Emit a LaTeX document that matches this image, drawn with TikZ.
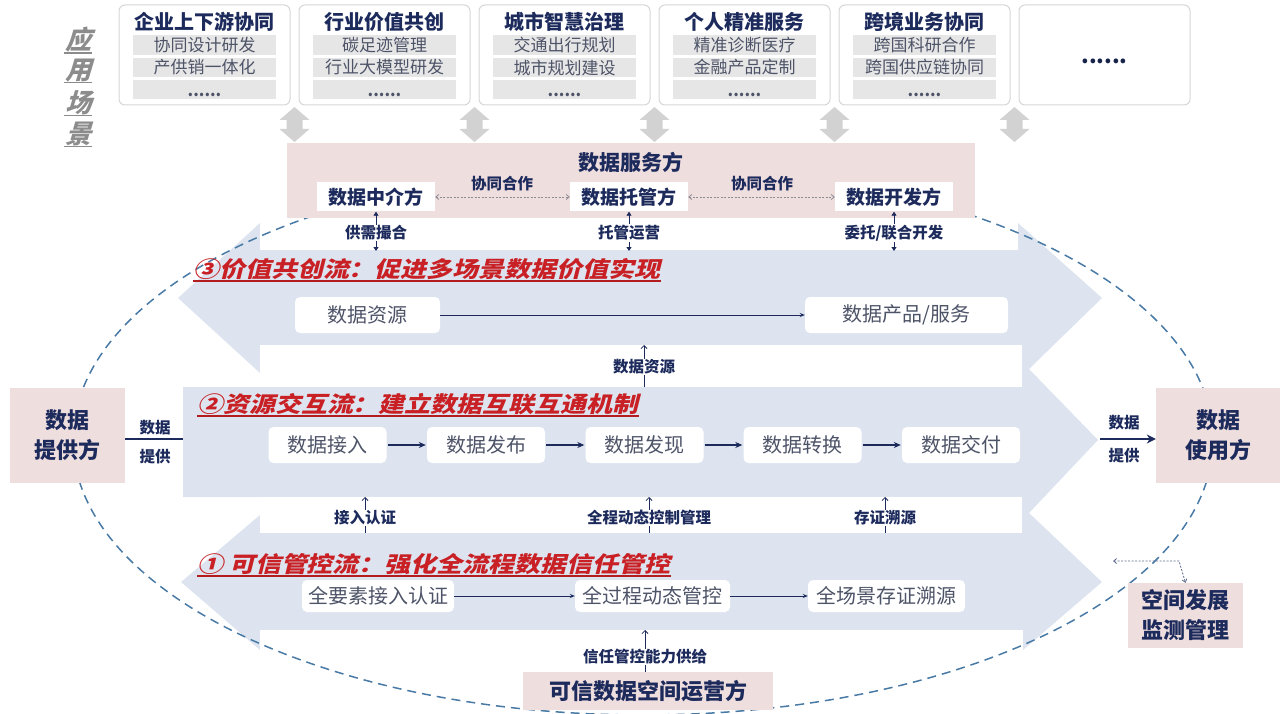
\documentclass[tikz,border=0pt]{standalone}
\usepackage{fontspec}
\setmainfont{Noto Sans CJK SC}
\newfontfamily\slfont[FakeSlant=0.25,FakeStretch=1.18]{Noto Sans CJK SC}
\newfontfamily\lblfont[FakeSlant=0.3]{Noto Sans CJK SC}
\usetikzlibrary{arrows.meta}
\definecolor{navy}{RGB}{28,42,92}
\definecolor{txtgray}{RGB}{78,84,104}
\definecolor{flowblue}{RGB}{221,228,239}
\definecolor{pinkbg}{RGB}{239,222,222}
\definecolor{titlered}{RGB}{200,32,36}
\definecolor{barbg}{RGB}{230,230,230}
\definecolor{arrgray}{RGB}{210,210,210}
\definecolor{boxline}{RGB}{214,214,214}
\definecolor{ellblue}{RGB}{72,122,165}
\definecolor{lblgray}{RGB}{140,140,140}
\definecolor{dotgray}{RGB}{140,140,150}
\newcommand\scenbox[5]{%
  \node[scen] (#1) at (#2+85.5,55) {};
  \node[scentitle] (#1t) at (#2+85.5,22) {#3};
  \node[barbox] (#1a) at (#2+85.5,45) {#4};
  \node[barbox] (#1b) at (#2+85.5,67.5) {#5};
  \node[barbox] (#1c) at (#2+85.5,89.5) {};
  \node[bardots] (#1d) at (#2+85.5,95) {......};
}
\newcommand\garrow[1]{%
  \fill[arrgray] (#1,107) -- (#1+15,120) -- (#1+8,120) -- (#1+8,129) -- (#1+15,129) -- (#1,142)
    -- (#1-15,129) -- (#1-8,129) -- (#1-8,120) -- (#1-15,120) -- cycle;
}
\begin{document}
\begin{tikzpicture}[x=1pt,y=-1pt,
  scen/.style={draw=boxline, line width=1pt, rounded corners=6pt, fill=white, minimum width=171pt, minimum height=100pt, inner sep=0pt},
  scentitle/.style={font=\fontsize{20}{20}\selectfont\bfseries, text=navy, inner sep=0pt},
  barbox/.style={fill=barbg, minimum width=143pt, minimum height=19.5pt, inner sep=0pt, text=txtgray, font=\fontsize{17}{17}\selectfont},
  bardots/.style={inner sep=0pt, text=txtgray, font=\fontsize{16}{16}\selectfont\bfseries},
  yylbl/.style={inner sep=0pt, text=lblgray, font=\fontsize{26}{26}\selectfont\lblfont\bfseries},
  pinkrect/.style={fill=pinkbg, inner sep=0pt},
  svcbox/.style={fill=white, minimum width=118pt, minimum height=29pt, inner sep=0pt, text=navy, font=\fontsize{19}{19}\selectfont\bfseries},
  smlbl/.style={inner sep=1pt, text=navy, font=\fontsize{15.5}{15.5}\selectfont\bfseries},
  ftitle/.style={inner sep=0pt, text=titlered, font=\fontsize{22}{22}\selectfont\slfont\bfseries},
  uline/.style={draw=titlered!90!black, line width=1.8pt},
  fbox/.style={fill=white, rounded corners=5pt, minimum height=36pt, inner sep=0pt, text=txtgray, font=\fontsize{20}{20}\selectfont},
  sidebox/.style={fill=pinkbg, inner sep=0pt, text=navy, align=center, font=\fontsize{22}{30}\selectfont\bfseries},
  thinarr/.style={draw=navy, line width=0.8pt, -{Stealth[length=5pt,width=4pt]}},
  medarr/.style={draw=navy, line width=1.4pt, -{Stealth[length=7pt,width=6pt]}, shorten >=1pt, shorten <=1pt},
  uparr/.style={draw=navy, line width=0.8pt, -{Straight Barb[length=3pt,width=6pt]}},
  dblarr/.style={draw=navy, line width=0.8pt, {Triangle[length=4pt,width=5pt]}-{Triangle[length=4pt,width=5pt]}},
  dotarr/.style={draw=dotgray, line width=0.8pt, dash pattern=on 2pt off 1.5pt, {Straight Barb[length=3pt,width=5pt]}-{Straight Barb[length=3pt,width=5pt]}},
  provline/.style={draw=navy, line width=2pt},
  provarr/.style={draw=navy, line width=2pt, -{Stealth[length=9pt,width=9pt]}},
  ellstyle/.style={draw=ellblue, line width=1.5pt, dash pattern=on 9pt off 6pt}
]
\useasboundingbox (0,0) rectangle (1282,714);

% ---- label 应用场景
\foreach \c/\yy/\nm in {应/40/la,用/71/lb,场/103/lc,景/134/ld}{
  \node[yylbl] (\nm) at (78,\yy) {\c};
  \draw[lblgray, line width=1.3pt] ([xshift=-1pt]\nm.south west) -- ([xshift=1pt]\nm.south east);
}

% ---- scenario boxes
\scenbox{s1}{119}{企业上下游协同}{协同设计研发}{产供销一体化}
\scenbox{s2}{299}{行业价值共创}{碳足迹管理}{行业大模型研发}
\scenbox{s3}{479}{城市智慧治理}{交通出行规划}{城市规划建设}
\scenbox{s4}{659}{个人精准服务}{精准诊断医疗}{金融产品定制}
\scenbox{s5}{839}{跨境业务协同}{跨国科研合作}{跨国供应链协同}
\node[scen] (s6) at (1104.5,55) {};
\node[inner sep=0pt, text=navy!80!black, font=\fontsize{22}{22}\selectfont\bfseries] (s6d) at (1104.5,61) {......};

\garrow{294.5}
\garrow{474.5}
\garrow{654.5}
\garrow{834.5}
\garrow{1014.5}

% ---- big flow shape
\fill[flowblue] (260,223) -- (1018,223) -- (1102,298) -- (1029,369) -- (1098,440) -- (1029,513)
  -- (1102,582) -- (1023,650) -- (260,650) -- (181,582) -- (260,515) -- (260,497) -- (183,497)
  -- (183,387) -- (260,387) -- (260,373) -- (178,298) -- cycle;
% white bands
\fill[white] (260,216) rectangle (1018,250);
\fill[white] (260,345) rectangle (1022,387);
\fill[white] (260,497) rectangle (1022,533);
\fill[white] (260,630) rectangle (1023,652);

% ---- ellipse
\draw[ellstyle] (643,440) ellipse [x radius=570pt, y radius=275pt];

% ---- data service band
\node[pinkrect, minimum width=688pt, minimum height=75pt] (svc) at (631,180.5) {};
\node[inner sep=0pt, text=navy, font=\fontsize{21}{21}\selectfont\bfseries] (svct) at (631,162) {数据服务方};
\node[svcbox] (med) at (376,197) {数据中介方};
\node[svcbox] (host) at (629,197) {数据托管方};
\node[svcbox] (dev) at (894,197) {数据开发方};
\draw[dotarr] (med) -- (host);
\draw[dotarr] (host) -- (dev);
\node[smlbl] (co1) at (502,184) {协同合作};
\node[smlbl] (co2) at (762,184) {协同合作};

\coordinate (f3a) at (376,251);
\coordinate (f3b) at (629,251);
\coordinate (f3c) at (894,251);
\draw[dblarr] (med.south) -- (f3a);
\draw[dblarr] (host.south) -- (f3b);
\draw[dblarr] (dev.south) -- (f3c);
\node[smlbl, fill=white] (l1) at (376,233) {供需撮合};
\node[smlbl, fill=white] (l2) at (629,233) {托管运营};
\node[smlbl, fill=white] (l3) at (894,233) {委托/联合开发};

% ---- flow 3
\node[ftitle, anchor=west] (t3) at (193,269) {③价值共创流：促进多场景数据价值实现};
\draw[uline] ([yshift=-1pt]t3.south west) -- ([yshift=-1pt]t3.south east);
\node[fbox, minimum width=145pt] (res) at (367.5,315) {数据资源};
\node[fbox, minimum width=203pt] (prod) at (906.5,315) {数据产品/服务};
\draw[thinarr] (res) -- (prod);

\coordinate (b3bot) at (644,345);
\coordinate (f2top) at (644,387);
\draw[uparr] (f2top) -- (b3bot);
\node[smlbl, fill=white] (l4) at (644,367) {数据资源};

% ---- flow 2
\node[ftitle, anchor=west] (t2) at (197,404) {②资源交互流：建立数据互联互通机制};
\draw[uline] ([yshift=-1pt]t2.south west) -- ([yshift=-1pt]t2.south east);
\node[fbox, minimum width=118pt] (acc) at (327.5,445) {数据接入};
\node[fbox, minimum width=118pt] (pub) at (486,445) {数据发布};
\node[fbox, minimum width=118pt] (disc) at (644.5,445) {数据发现};
\node[fbox, minimum width=118pt] (conv) at (802.5,445) {数据转换};
\node[fbox, minimum width=118pt] (deliv) at (961,445) {数据交付};
\draw[medarr] (acc) -- (pub);
\draw[medarr] (pub) -- (disc);
\draw[medarr] (disc) -- (conv);
\draw[medarr] (conv) -- (deliv);

\foreach \xx/\nm/\tx in {365/l5/接入认证, 649/l6/全程动态控制管理, 885/l7/存证溯源}{
  \coordinate (\nm a) at (\xx,533);
  \coordinate (\nm b) at (\xx,497);
  \draw[uparr] (\nm a) -- (\nm b);
  \node[smlbl, fill=white] (\nm) at (\xx,518) {\tx};
}

% ---- flow 1
\node[ftitle, anchor=west] (t1) at (197,564) {① 可信管控流：强化全流程数据信任管控};
\draw[uline] ([yshift=-1pt]t1.south west) -- ([yshift=-1pt]t1.south east);
\node[fbox, minimum width=152pt, minimum height=32pt] (auth) at (378,596) {全要素接入认证};
\node[fbox, minimum width=155pt, minimum height=32pt] (dyn) at (652.5,596) {全过程动态管控};
\node[fbox, minimum width=157pt, minimum height=32pt] (trace) at (886.5,596) {全场景存证溯源};
\draw[thinarr] (auth) -- (dyn);
\draw[thinarr] (dyn) -- (trace);

% ---- operator
\node[sidebox, minimum width=250pt, minimum height=38pt] (ops) at (648,691) {可信数据空间运营方};
\coordinate (f1bot) at (645,630);
\draw[uparr] (ops.north -| f1bot) -- (f1bot);
\node[smlbl, fill=white] (l8) at (645,657) {信任管控能力供给};

% ---- provider / user
\node[sidebox, minimum width=115pt, minimum height=95pt] (prov) at (67.5,435) {数据\\提供方};
\coordinate (f2left) at (183,439);
\draw[provline] (prov.east |- f2left) -- (f2left);
\node[smlbl] (pl1) at (155,428) {数据};
\node[smlbl] (pl2) at (155,457) {提供};

\node[sidebox, minimum width=124pt, minimum height=95pt] (user) at (1218,435) {数据\\使用方};
\coordinate (f2right) at (1100,439);
\draw[provarr] (f2right) -- (user.west |- f2right);
\node[smlbl] (ul1) at (1124,423) {数据};
\node[smlbl] (ul2) at (1124,456) {提供};

% ---- monitor
\node[sidebox, minimum width=115pt, minimum height=65pt] (mon) at (1185.5,615.5) {空间发展\\监测管理};
\coordinate (monl) at (1113,561);
\coordinate (monk) at (1179,561);
\draw[dotarr, draw=navy!70] (monl) -- (monk) -- (mon.north);
\end{tikzpicture}
\end{document}
